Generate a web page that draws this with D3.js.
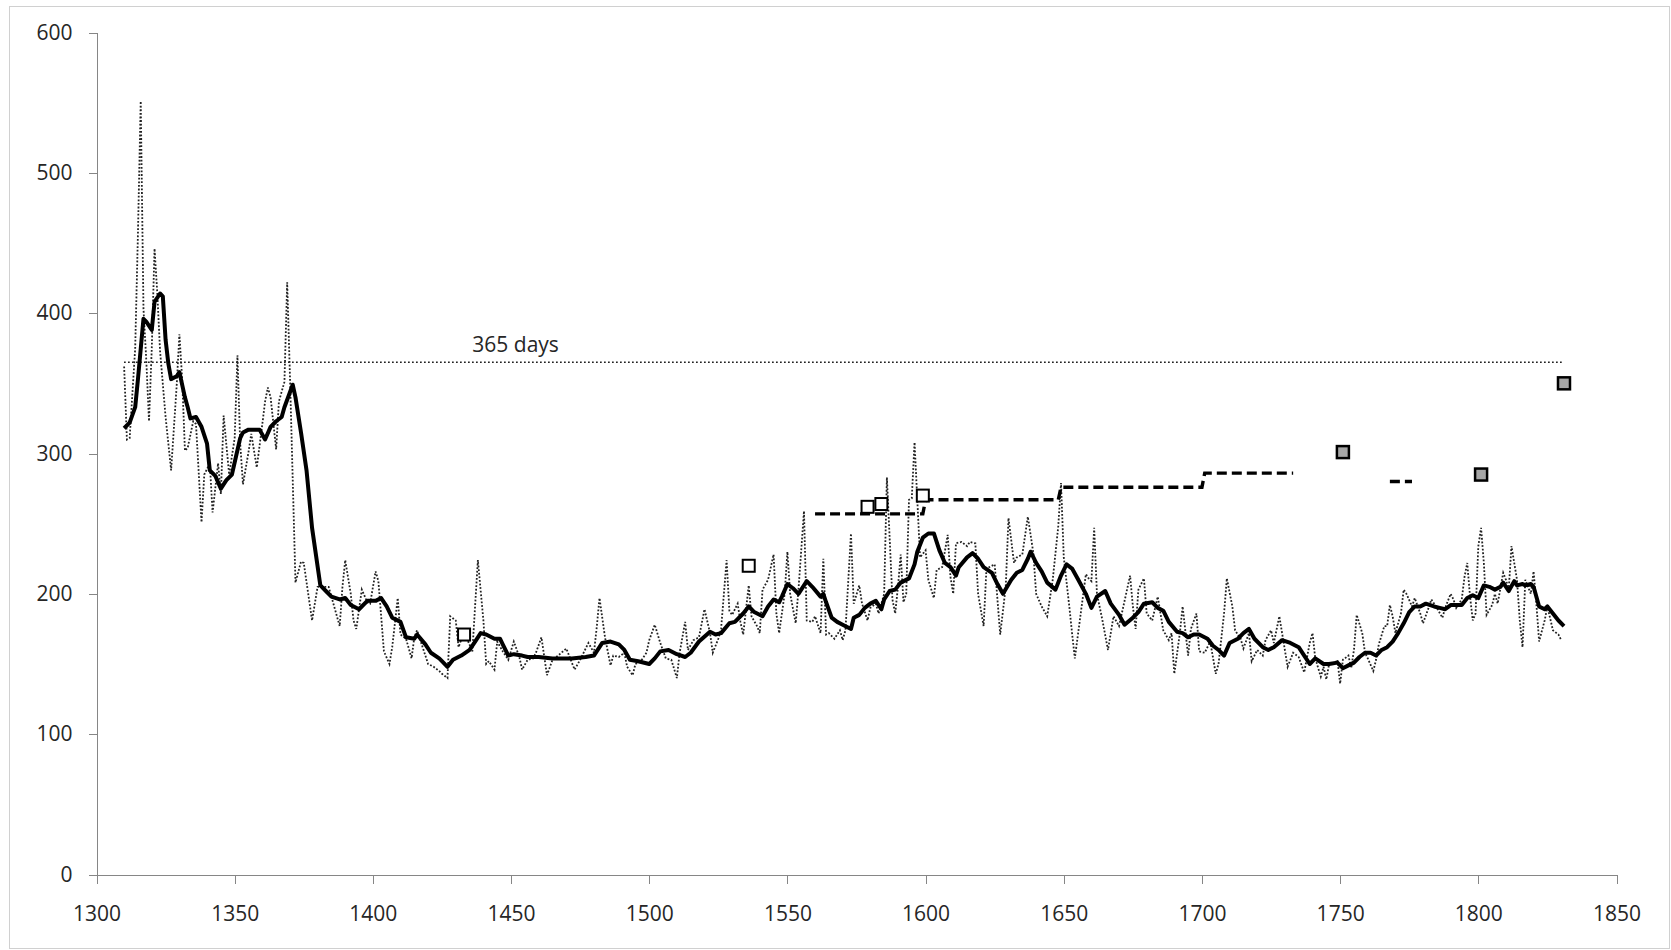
<!DOCTYPE html>
<html>
<head>
<meta charset="utf-8">
<script src="https://cdn.jsdelivr.net/npm/d3@7"></script>
<style>
  body { margin: 0; background: #fff; }
  .axis path, .axis line { stroke: #868686; shape-rendering: crispEdges; }
  .axis text { font-family: "Open Sans", sans-serif; font-size: 21px; fill: #262626; }
</style>
</head>
<body>
<div id="chart"></div>
<script>
// ---- data ----
var xTicks = [1300, 1350, 1400, 1450, 1500, 1550, 1600, 1650, 1700, 1750, 1800, 1850];
var yTicks = [0, 100, 200, 300, 400, 500, 600];

// yearly values (dotted line)
var annual = [
  [1310,362],[1311,310],[1312,311],[1314,375],[1315,457],[1316,551],[1317,403],[1318,367],[1319,323],
  [1320,375],[1321,446],[1322,414],[1323,373],[1325,326],[1327,288],[1329,348],[1330,385],[1331,353],
  [1332,302],[1333,304],[1335,323],[1336,321],[1338,251],[1339,285],[1341,293],[1342,258],[1344,293],
  [1345,271],[1346,327],[1348,285],[1350,311],[1351,370],[1352,307],[1353,278],[1355,301],[1356,314],
  [1358,290],[1360,321],[1361,337],[1362,347],[1363,340],[1365,303],[1366,337],[1368,351],[1369,422],
  [1370,355],[1372,208],[1374,223],[1375,222],[1378,181],[1380,205],[1384,205],[1388,177],[1389,205],
  [1390,224],[1392,200],[1393,181],[1394,175],[1396,203],[1398,194],[1399,193],[1401,216],[1402,209],
  [1404,159],[1406,150],[1407,162],[1409,197],[1410,171],[1412,168],[1414,154],[1415,169],[1416,174],
  [1418,162],[1420,150],[1422,148],[1424,145],[1425,143],[1427,140],[1428,184],[1430,181],[1431,162],
  [1433,173],[1436,159],[1438,224],[1440,181],[1441,150],[1442,152],[1444,146],[1445,166],[1447,159],
  [1449,153],[1451,166],[1453,155],[1454,146],[1456,153],[1458,154],[1459,158],[1461,169],[1463,142],
  [1465,153],[1467,156],[1470,161],[1473,146],[1475,153],[1478,165],[1480,158],[1481,176],[1482,197],
  [1484,169],[1486,149],[1487,156],[1489,155],[1491,158],[1492,148],[1494,142],[1495,150],[1497,152],
  [1499,158],[1500,167],[1502,178],[1504,165],[1506,154],[1508,153],[1510,140],[1511,158],[1513,180],
  [1514,160],[1516,167],[1518,169],[1520,189],[1522,172],[1523,158],[1525,168],[1526,175],[1528,224],
  [1529,188],[1530,185],[1532,193],[1533,180],[1534,171],[1536,206],[1537,184],[1539,177],[1540,172],
  [1541,203],[1543,210],[1545,228],[1546,186],[1547,172],[1549,200],[1550,230],[1551,200],[1553,179],
  [1554,203],[1556,259],[1557,181],[1559,180],[1560,184],[1562,172],[1563,225],[1564,171],[1565,172],
  [1567,168],[1569,174],[1570,167],[1571,174],[1573,243],[1574,193],[1576,206],[1577,193],[1579,181],
  [1580,190],[1582,193],[1583,186],[1585,200],[1586,283],[1588,196],[1589,186],[1590,205],[1591,228],
  [1592,194],[1593,200],[1594,267],[1595,268],[1596,308],[1597,267],[1598,226],[1600,231],[1601,210],
  [1603,197],[1604,217],[1606,219],[1608,242],[1609,212],[1610,200],[1611,236],[1613,237],[1615,234],
  [1616,237],[1618,236],[1619,200],[1621,177],[1622,217],[1623,219],[1625,221],[1626,196],[1627,171],
  [1629,205],[1630,254],[1632,222],[1633,226],[1635,228],[1637,255],[1639,229],[1640,200],[1642,191],
  [1644,184],[1646,210],[1648,248],[1649,279],[1650,226],[1652,191],[1653,172],[1654,154],[1656,184],
  [1658,214],[1659,211],[1660,209],[1661,247],[1662,200],[1664,181],[1666,160],[1668,184],[1670,177],
  [1671,186],[1674,213],[1675,191],[1676,175],[1677,203],[1679,211],[1680,186],[1682,181],[1684,198],
  [1686,174],[1688,167],[1689,172],[1690,143],[1692,172],[1693,191],[1695,156],[1696,175],[1698,186],
  [1699,159],[1701,158],[1703,166],[1705,143],[1706,150],[1708,186],[1709,211],[1711,191],[1712,174],
  [1714,168],[1715,161],[1717,172],[1718,152],[1720,160],[1722,156],[1723,167],[1725,174],[1726,165],
  [1728,184],[1729,172],[1731,148],[1733,158],[1735,155],[1737,144],[1739,165],[1740,172],[1741,154],
  [1743,141],[1744,148],[1745,139],[1746,150],[1748,150],[1749,153],[1750,136],[1751,153],[1753,156],
  [1754,147],[1755,160],[1756,185],[1758,172],[1759,158],[1760,154],[1762,145],[1763,153],[1764,164],
  [1766,177],[1767,177],[1768,192],[1769,184],[1770,172],[1772,186],[1773,203],[1774,200],[1776,191],
  [1777,197],[1779,186],[1780,179],[1782,190],[1783,196],[1785,190],[1787,183],[1788,190],[1790,200],
  [1791,196],[1792,190],[1794,196],[1795,212],[1796,222],[1797,198],[1798,181],[1799,186],[1800,234],
  [1801,247],[1802,222],[1803,185],[1805,192],[1806,200],[1807,193],[1809,215],[1810,210],[1811,203],
  [1812,234],[1814,210],[1815,181],[1816,162],[1817,210],[1818,205],[1819,200],[1820,216],[1821,193],
  [1822,166],[1824,181],[1825,191],[1827,174],[1829,171],[1830,167]
];

// smoothed values (thick line)
var smoothed = [
  [1310,318],[1312,322],[1314,333],[1315,353],[1317,396],[1318,394],[1320,388],[1321,408],[1323,414],
  [1324,412],[1325,381],[1326,364],[1327,353],[1329,355],[1330,358],[1332,340],[1333,333],[1334,325],
  [1336,326],[1338,319],[1340,307],[1341,288],[1343,284],[1345,275],[1347,281],[1349,285],[1352,311],
  [1353,315],[1355,317],[1359,317],[1361,310],[1363,319],[1365,323],[1367,326],[1368,333],[1371,349],
  [1372,340],[1374,315],[1376,288],[1378,247],[1381,206],[1383,202],[1385,198],[1388,196],[1390,197],
  [1392,192],[1395,189],[1398,195],[1401,195],[1403,197],[1405,191],[1407,183],[1410,180],[1412,169],
  [1415,168],[1416,171],[1419,164],[1421,158],[1424,154],[1425,152],[1427,148],[1429,153],[1432,156],
  [1435,160],[1437,166],[1439,172],[1441,171],[1444,168],[1446,168],[1447,164],[1449,156],[1451,157],
  [1454,156],[1456,155],[1460,155],[1465,154],[1472,154],[1477,155],[1480,156],[1483,165],[1486,166],
  [1489,164],[1491,160],[1493,153],[1496,152],[1500,150],[1502,154],[1504,159],[1507,160],[1510,157],
  [1513,155],[1515,158],[1518,166],[1522,173],[1524,171],[1526,172],[1529,179],[1531,180],[1534,186],
  [1536,191],[1538,187],[1541,184],[1543,191],[1545,196],[1547,194],[1548,198],[1550,207],[1552,204],
  [1554,200],[1557,209],[1559,205],[1562,198],[1563,200],[1564,194],[1566,183],[1568,180],[1570,178],
  [1573,175],[1574,183],[1576,185],[1578,190],[1580,193],[1582,195],[1584,189],[1585,196],[1587,202],
  [1589,203],[1591,208],[1594,211],[1596,221],[1597,230],[1599,240],[1601,243],[1603,243],[1605,231],
  [1607,222],[1609,219],[1611,213],[1612,219],[1615,226],[1617,229],[1619,225],[1621,219],[1624,215],
  [1626,207],[1628,200],[1631,210],[1633,215],[1635,217],[1637,225],[1638,230],[1640,222],[1642,216],
  [1644,208],[1647,203],[1649,213],[1651,221],[1653,218],[1655,211],[1658,200],[1660,190],[1662,198],
  [1665,202],[1667,193],[1670,185],[1672,178],[1675,183],[1677,187],[1679,193],[1682,194],[1684,190],
  [1686,188],[1688,180],[1691,173],[1693,172],[1695,169],[1697,171],[1699,171],[1702,168],[1704,163],
  [1706,160],[1708,156],[1710,165],[1713,168],[1715,172],[1717,175],[1719,168],[1722,162],[1724,160],
  [1726,162],[1729,167],[1732,165],[1735,162],[1737,156],[1739,150],[1741,154],[1744,150],[1746,150],
  [1749,151],[1751,147],[1753,149],[1755,151],[1757,155],[1759,158],[1761,158],[1763,156],[1765,160],
  [1767,162],[1769,166],[1771,172],[1773,179],[1775,187],[1777,191],[1779,191],[1781,193],[1784,191],
  [1786,190],[1788,189],[1790,192],[1792,192],[1794,192],[1796,197],[1798,199],[1800,197],[1802,206],
  [1804,205],[1806,203],[1808,205],[1809,208],[1811,202],[1813,209],[1814,206],[1816,207],[1817,206],
  [1819,207],[1820,205],[1822,191],[1824,189],[1825,191],[1827,186],[1829,181],[1831,177]
];

// dashed step series (two pieces)
var stepsA = [[1560,257],[1599,257],[1600,267],[1648,267],[1649,276],[1700,276],[1701,286],[1733,286]];
var stepsB = [[1768,280],[1776,280]];

// single observations
var openMarks = [[1433,171],[1536,220],[1579,262],[1584,264],[1599,270]];
var grayMarks = [[1751,301],[1801,285],[1831,350]];

// reference line
var yearLength = 365;
var yearLineSpan = [1310, 1831];
var yearLabel = "365 days";

// ---- drawing ----
var width = 1671, height = 950;

var svg = d3.select('#chart')
  .append('svg')
  .attr('width', width)
  .attr('height', height);

svg.append('rect')
  .attr('x', 9.5).attr('y', 6.5)
  .attr('width', 1660).attr('height', 942)
  .attr('fill', '#fff')
  .attr('stroke', '#d0d0d0');

var x = d3.scaleLinear().domain([1300, 1850]).range([96.5, 1616.5]);
var y = d3.scaleLinear().domain([0, 600]).range([874.5, 32.5]);

// axes
svg.append('g')
  .attr('class', 'axis')
  .attr('transform', 'translate(96.5,0)')
  .call(d3.axisLeft(y).tickValues(yTicks).tickSize(8).tickSizeOuter(0).tickPadding(16));

svg.append('g')
  .attr('class', 'axis')
  .attr('transform', 'translate(0,874.5)')
  .call(d3.axisBottom(x).tickValues(xTicks).tickFormat(d3.format('d')).tickSize(9).tickSizeOuter(0).tickPadding(23));

var line = d3.line().x(d => x(d[0])).y(d => y(d[1]));

// 365 days reference
svg.append('path')
  .datum(yearLineSpan.map(v => [v, yearLength]))
  .attr('d', line)
  .attr('fill', 'none')
  .attr('stroke', '#000')
  .attr('stroke-width', 1.5)
  .attr('stroke-dasharray', '1.5,2.5');

svg.append('text')
  .attr('x', x(1436))
  .attr('y', y(yearLength) - 10)
  .style('font-family', '"Open Sans", sans-serif')
  .style('font-size', '21px')
  .attr('fill', '#262626')
  .text(yearLabel);

// yearly dotted
svg.append('path')
  .datum(annual)
  .attr('d', line)
  .attr('fill', 'none')
  .attr('stroke', '#222')
  .attr('stroke-width', 1.8)
  .attr('stroke-dasharray', '1.8,1.8');

// dashed steps
[stepsA, stepsB].forEach(function(s) {
  svg.append('path')
    .datum(s)
    .attr('d', line)
    .attr('fill', 'none')
    .attr('stroke', '#000')
    .attr('stroke-width', 3.4)
    .attr('stroke-dasharray', '10,5');
});

// smoothed thick
svg.append('path')
  .datum(smoothed)
  .attr('d', line)
  .attr('fill', 'none')
  .attr('stroke', '#000')
  .attr('stroke-width', 4)
  .attr('stroke-linejoin', 'round');

// markers
svg.selectAll('rect.open')
  .data(openMarks)
  .enter().append('rect')
  .attr('class', 'open')
  .attr('x', d => x(d[0]) - 6)
  .attr('y', d => y(d[1]) - 6)
  .attr('width', 12).attr('height', 12)
  .attr('fill', '#fff')
  .attr('stroke', '#000')
  .attr('stroke-width', 2);

svg.selectAll('rect.gray')
  .data(grayMarks)
  .enter().append('rect')
  .attr('class', 'gray')
  .attr('x', d => x(d[0]) - 6)
  .attr('y', d => y(d[1]) - 6)
  .attr('width', 12).attr('height', 12)
  .attr('fill', '#a6a6a6')
  .attr('stroke', '#000')
  .attr('stroke-width', 2.5);
</script>
</body>
</html>
